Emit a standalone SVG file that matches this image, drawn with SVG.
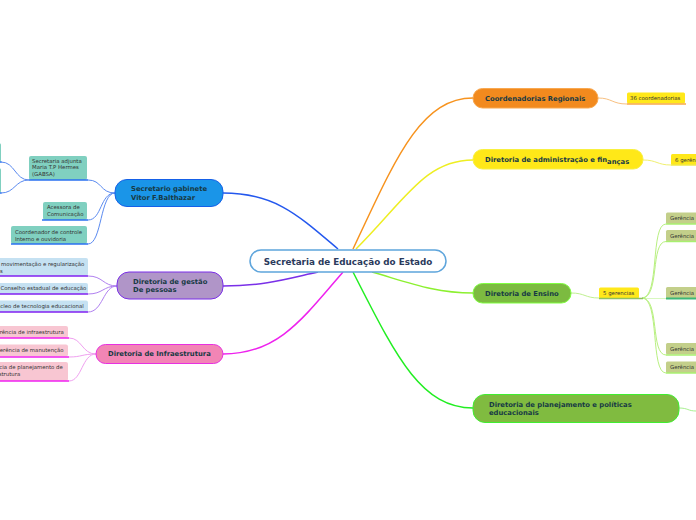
<svg xmlns="http://www.w3.org/2000/svg" width="696" height="520" viewBox="0 0 696 520">
<style>
.m{font-family:"DejaVu Sans",Verdana,sans-serif;font-weight:bold;font-size:6.8px;fill:#173a44}
.c{font-family:"DejaVu Sans",Verdana,sans-serif;font-weight:bold;font-size:8.8px;fill:#2b3a5c}
.s{font-family:"DejaVu Sans",Verdana,sans-serif;font-size:5.4px;fill:#333}
.con path{fill:none}
.main{stroke-width:1.5}
.sub{stroke-width:1}
.ul{stroke-width:1.5;fill:none}
</style>
<rect width="696" height="520" fill="#fff"/>
<g id="connectors" class="con">
<path class="main" stroke="#2458ee" d="M338,249 C298,215 275,193 223,193"/>
<path class="main" stroke="#f7931e" d="M353,249 C395,160 420,98 473,98"/>
<path class="main" stroke="#eeee22" d="M356,249 C405,200 425,160 473,160"/>
<path class="main" stroke="#8cf030" d="M372,272 C410,283 435,293 473,293"/>
<path class="main" stroke="#22ee22" d="M353,272 C395,354 420,408 473,408"/>
<path class="main" stroke="#ee22ee" d="M343,272 C301,321 277,354 223,354"/>
<path class="main" stroke="#7a30e8" d="M318,272 C290,278 265,286 223,286"/>
<path class="sub" stroke="#f8c080" d="M598,98 C612,98 612,104 627,104"/>
<path class="sub" stroke="#f0f070" d="M643,160 C657,160 657,165 671,165"/>
<path class="sub" stroke="#c0f090" d="M571,293 C585,293 585,298 599,298"/>
<path class="sub" stroke="#b8f080" d="M642,298 C660,298 650,224 666,224"/>
<path class="sub" stroke="#b8f080" d="M642,298 C660,298 650,241.5 666,241.5"/>
<path class="sub" stroke="#d8f8c0" d="M642,298.5 L666,298.5"/>
<path class="sub" stroke="#b8f080" d="M642,298 C660,298 650,355 666,355"/>
<path class="sub" stroke="#b8f080" d="M642,298 C660,298 650,373 666,373"/>
<path class="sub" stroke="#a8f090" d="M679,408 C688,408 688,411 696,411"/>
<path class="sub" stroke="#5a8af0" d="M115,193 C100,193 102,180 88,180"/>
<path class="sub" stroke="#5a8af0" d="M115,193 C100,193 102,220 88,220"/>
<path class="sub" stroke="#5a8af0" d="M115,193 C100,193 102,244 88,244"/>
<path class="sub" stroke="#5a8af0" d="M29,180 C15,180 15,162 1,162"/>
<path class="sub" stroke="#5a8af0" d="M29,180 C15,180 15,193 1,193"/>
<path class="sub" stroke="#b080f0" d="M117,286 C103,286 103,276 88,276"/>
<path class="sub" stroke="#b080f0" d="M117,286 C103,286 103,294 88,294"/>
<path class="sub" stroke="#b080f0" d="M117,286 C103,286 103,312 88,312"/>
<path class="sub" stroke="#f0a0f0" d="M96,354 C82,354 82,338 69,338"/>
<path class="sub" stroke="#f0a0f0" d="M96,354 C82,354 82,357 69,357"/>
<path class="sub" stroke="#f0a0f0" d="M96,354 C82,354 82,381 69,381"/>
</g>

<g id="central">
<rect x="250" y="250" width="196" height="22" rx="11" fill="#fff" stroke="#5ea5dc" stroke-width="1.5"/>
<text class="c" x="348" y="264.8" text-anchor="middle">Secretaria de Educação do Estado</text>
</g>

<g id="coordenadorias">
<rect x="473" y="88.5" width="125" height="19.5" rx="9.5" fill="#f28a1e" stroke="#f8a850" stroke-width="1"/>
<text class="m" x="485" y="100.8">Coordenadorias Regionais</text>
</g>
<g id="n36">
<rect x="627" y="92.5" width="58" height="11" rx="1.5" fill="#ffe81a"/>
<line class="ul" x1="627" y1="104" x2="686" y2="104" stroke="#f8a848"/>
<text class="s" x="630" y="99.8">36 coordenadorias</text>
</g>

<g id="administracao">
<rect x="473" y="149.5" width="170" height="19.5" rx="9.5" fill="#ffe818" stroke="#f8f040" stroke-width="1"/>
<text class="m" x="485" y="162.3">Diretoria de administração e fin<tspan dy="1.2">anças</tspan></text>
</g>
<g id="n6">
<rect x="671" y="154" width="30" height="11" rx="1.5" fill="#ffe81a"/>
<line class="ul" x1="671" y1="165" x2="696" y2="165" stroke="#f0e848"/>
<text class="s" x="675" y="161.5">6 gerências</text>
</g>

<g id="ensino">
<rect x="473" y="283.5" width="98" height="19.5" rx="9.5" fill="#7cbb40" stroke="#80ff40" stroke-width="1"/>
<text class="m" x="485" y="296">Diretoria de Ensino</text>
</g>
<g id="n5">
<rect x="599" y="287.5" width="40" height="11" rx="1.5" fill="#ffe81a"/>
<line class="ul" x1="599" y1="298.5" x2="643" y2="298.5" stroke="#90c060"/>
<text class="s" x="603" y="294.5">5 gerencias</text>
</g>
<g id="g1">
<rect x="666" y="212.5" width="34" height="11.5" rx="1.5" fill="#c3cf8a"/>
<line class="ul" x1="666" y1="224" x2="696" y2="224" stroke="#a8f070"/>
<text class="s" x="670" y="220">Gerência</text>
</g>
<g id="g2">
<rect x="666" y="230" width="34" height="11.5" rx="1.5" fill="#c3cf8a"/>
<line class="ul" x1="666" y1="241.5" x2="696" y2="241.5" stroke="#a8f070"/>
<text class="s" x="670" y="237.8">Gerência</text>
</g>
<g id="g3">
<rect x="666" y="287" width="34" height="11.5" rx="1.5" fill="#c3cf8a"/>
<line x1="666" y1="298.5" x2="696" y2="298.5" stroke="#3cb878" stroke-width="2"/>
<text class="s" x="670" y="294.8">Gerência</text>
</g>
<g id="g4">
<rect x="666" y="343" width="34" height="11.5" rx="1.5" fill="#c3cf8a"/>
<line class="ul" x1="666" y1="355" x2="696" y2="355" stroke="#a8f070"/>
<text class="s" x="670" y="350.8">Gerência</text>
</g>
<g id="g5">
<rect x="666" y="361.5" width="34" height="11.5" rx="1.5" fill="#c3cf8a"/>
<line class="ul" x1="666" y1="373" x2="696" y2="373" stroke="#a8f070"/>
<text class="s" x="670" y="369.2">Gerência</text>
</g>

<g id="planejamento">
<rect x="473" y="394.5" width="206" height="28" rx="12" fill="#80bb40" stroke="#40ee30" stroke-width="1"/>
<text class="m" x="489" y="407">Diretoria de planejamento e políticas</text>
<text class="m" x="489" y="415">educacionais</text>
</g>

<g id="gabinete">
<rect x="115" y="179.5" width="108" height="27" rx="12" fill="#1a95e8" stroke="#1560e8" stroke-width="1"/>
<text class="m" x="131" y="191.3">Secretario gabinete</text>
<text class="m" x="131" y="199.8">Vitor F.Balthazar</text>
</g>
<g id="adjunta">
<rect x="29" y="156" width="58" height="24" rx="2" fill="#80d0c0"/>
<line class="ul" x1="29" y1="180" x2="88" y2="180" stroke="#2a70f0"/>
<text class="s" x="32" y="162.5">Secretaria adjunta</text>
<text class="s" x="32" y="169">Maria T.P Hermes</text>
<text class="s" x="32" y="175.5">(GABSA)</text>
</g>
<g id="adj1">
<rect x="-20" y="143" width="21" height="19" rx="2" fill="#80d0c0"/>
<line class="ul" x1="-20" y1="162" x2="1.5" y2="162" stroke="#2a70f0"/>
</g>
<g id="adj2">
<rect x="-20" y="168" width="21" height="25" rx="2" fill="#80d0c0"/>
<line class="ul" x1="-20" y1="193" x2="1.5" y2="193" stroke="#2a70f0"/>
</g>
<g id="acessora">
<rect x="43" y="202" width="44" height="18" rx="2" fill="#80d0c0"/>
<line class="ul" x1="42" y1="220" x2="88" y2="220" stroke="#2a70f0"/>
<text class="s" x="47" y="208.5">Acessora de</text>
<text class="s" x="47" y="216">Comunicação</text>
</g>
<g id="controle">
<rect x="11" y="226" width="76" height="18" rx="2" fill="#80d0c0"/>
<line class="ul" x1="11" y1="244" x2="88" y2="244" stroke="#2a70f0"/>
<text class="s" x="15" y="233.5">Coordenador de controle</text>
<text class="s" x="15" y="240.5">Interno e ouvidoria</text>
</g>

<g id="gestao">
<rect x="117" y="272" width="106" height="27" rx="12" fill="#b095c8" stroke="#7b2ee8" stroke-width="1"/>
<text class="m" x="133" y="284.2">Diretoria de gestão</text>
<text class="m" x="133" y="292.2">De pessoas</text>
</g>
<g id="movimentacao">
<rect x="-10" y="258" width="98" height="18" rx="2" fill="#c5e1f2"/>
<line class="ul" x1="-10" y1="276" x2="88" y2="276" stroke="#8020f0"/>
<text class="s" x="1" y="266">movimentação e regularização</text>
<text class="s" x="0" y="272.5">s</text>
</g>
<g id="conselho">
<rect x="-10" y="283" width="98" height="11" rx="2" fill="#c5e1f2"/>
<line class="ul" x1="-10" y1="294" x2="88" y2="294" stroke="#8020f0"/>
<text class="s" x="0.5" y="290.3">Conselho estadual de educação</text>
</g>
<g id="nucleo">
<rect x="-10" y="300.5" width="98" height="11.5" rx="2" fill="#c5e1f2"/>
<line class="ul" x1="-10" y1="312" x2="88" y2="312" stroke="#8020f0"/>
<text class="s" x="-7.2" y="308.2">Núcleo de tecnologia educacional</text>
</g>

<g id="infraestrutura">
<rect x="96" y="344.5" width="127" height="19" rx="9.5" fill="#f285b5" stroke="#e830e0" stroke-width="1"/>
<text class="m" x="108" y="356.3">Diretoria de Infraestrutura</text>
</g>
<g id="ger-infra">
<rect x="-10" y="326" width="78" height="12" rx="2" fill="#f8c6d2"/>
<line class="ul" x1="-10" y1="338" x2="69" y2="338" stroke="#f020f0"/>
<text class="s" x="-7.8" y="334">Gerência de infraestrutura</text>
</g>
<g id="ger-manut">
<rect x="-10" y="344.5" width="78" height="12" rx="2" fill="#f8c6d2"/>
<line class="ul" x1="-10" y1="357" x2="69" y2="357" stroke="#f020f0"/>
<text class="s" x="-4.4" y="352.3">Gerência de manutenção</text>
</g>
<g id="ger-plan">
<rect x="-10" y="362" width="78" height="19" rx="2" fill="#f8c6d2"/>
<line class="ul" x1="-10" y1="381" x2="69" y2="381" stroke="#f020f0"/>
<text class="s" x="-17" y="369">Gerência de planejamento de</text>
<text class="s" x="-17" y="375.5">infraestrutura</text>
</g>
</svg>
